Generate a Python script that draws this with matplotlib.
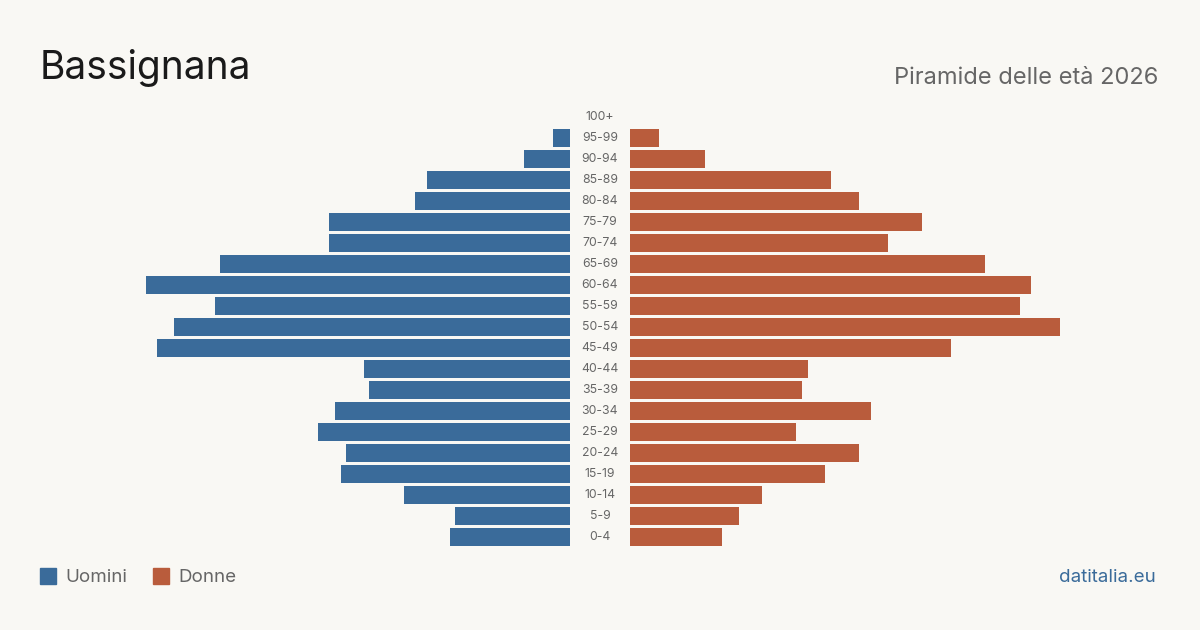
import matplotlib
matplotlib.use("Agg")
import matplotlib.pyplot as plt
from matplotlib.patches import Rectangle

ages = ["0-4", "5-9", "10-14", "15-19", "20-24", "25-29", "30-34", "35-39", "40-44",
        "45-49", "50-54", "55-59", "60-64", "65-69", "70-74", "75-79", "80-84",
        "85-89", "90-94", "95-99", "100+"]
uomini = [120, 115, 166, 229, 224, 252, 235, 201, 206, 413, 396, 355, 424, 350,
          241, 241, 155, 143, 46, 17, 0]
donne = [92, 109, 132, 195, 229, 166, 241, 172, 178, 321, 430, 390, 401, 355,
         258, 292, 229, 201, 75, 29, 0]

BG = "#f9f8f4"
BLUE = "#3a6b9a"
ORANGE = "#b95c3c"
GRAY = "#666666"
FONT = ["Inter", "DejaVu Sans"]

W, H = 1200, 630
fig = plt.figure(figsize=(W / 100, H / 100), dpi=100, facecolor=BG)

top_px, bot_px = 106.5, 547.5
ax_b = (H - bot_px) / H
ax_h = (bot_px - top_px) / H
left_edge, gap_l, gap_r = 0, 570, 630

axL = fig.add_axes([left_edge / W, ax_b, (gap_l - left_edge) / W, ax_h])
axR = fig.add_axes([gap_r / W, ax_b, (W - gap_r) / W, ax_h])

y = list(range(len(ages)))
axL.barh(y, uomini, height=0.81, color=BLUE)
axR.barh(y, donne, height=0.81, color=ORANGE)
axL.set_xlim(gap_l - left_edge, 0)
axR.set_xlim(0, W - gap_r)
for ax in (axL, axR):
    ax.set_ylim(-0.5, len(ages) - 0.5)
    ax.axis("off")
    ax.set_facecolor("none")

for i, lab in enumerate(ages):
    yp = (bot_px - (i + 0.5) * (bot_px - top_px) / len(ages))
    fig.text(600 / W, 1 - yp / H, lab, ha="center", va="center", fontsize=8.8,
             color=GRAY, family=FONT)

fig.text(40 / W, 1 - 68 / H, "Bassignana", ha="left", va="center", fontsize=28,
         color="#1a1a1a", family=FONT)
fig.text(1158 / W, 1 - 78 / H, "Piramide delle età 2026", ha="right", va="center",
         fontsize=17, color=GRAY, family=FONT)

# legend
for x0, col, lab in [(40, BLUE, "Uomini"), (153, ORANGE, "Donne")]:
    fig.patches.append(Rectangle((x0 / W, 1 - 584 / H), 16 / W, 16 / H,
                                 transform=fig.transFigure, color=col))
    fig.text((x0 + 25) / W, 1 - 577 / H, lab, ha="left", va="center",
             fontsize=13.5, color=GRAY, family=FONT)

fig.text(1156 / W, 1 - 577 / H, "datitalia.eu", ha="right", va="center",
         fontsize=13.5, color=BLUE, family=FONT)

fig.savefig("out.png", dpi=100, facecolor=BG)
